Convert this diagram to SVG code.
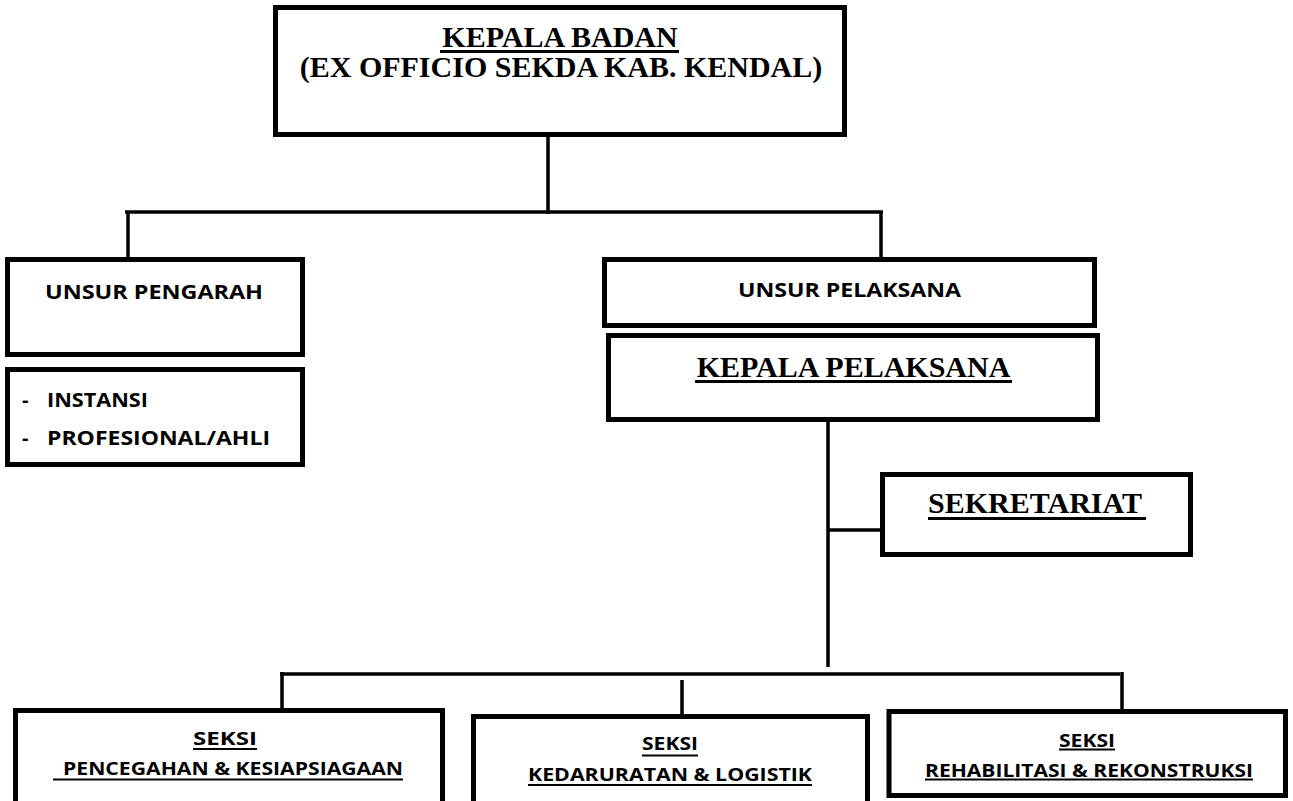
<svg xmlns="http://www.w3.org/2000/svg" width="1293" height="801" viewBox="0 0 1293 801">
<style>
.box{fill:#fff;stroke:#000;stroke-width:5}
.ln{stroke:#000;stroke-width:3.5;fill:none}
.ul{stroke:#000;stroke-width:3}
.uls{stroke:#000;stroke-width:2}
.serif{font-family:"Liberation Serif","Times New Roman",serif;font-weight:bold;font-size:30px;fill:#000}
.sans{font-family:"Open Sans","Liberation Sans",Arial,sans-serif;font-weight:bold;font-size:20px;fill:#000}
.sm{font-family:"Open Sans","Liberation Sans",Arial,sans-serif;font-weight:bold;font-size:18.5px;fill:#000}
</style>
<rect width="1293" height="801" fill="#fff"/>
<g id="connectors">
<line class="ln" x1="548" y1="137" x2="548" y2="214"/>
<line class="ln" x1="125" y1="212" x2="883" y2="212"/>
<line class="ln" x1="128" y1="212" x2="128" y2="258"/>
<line class="ln" x1="881" y1="212" x2="881" y2="258"/>
<line class="ln" x1="828" y1="422" x2="828" y2="667"/>
<line class="ln" x1="828" y1="530" x2="885" y2="530"/>
<line class="ln" x1="280" y1="674" x2="1120" y2="674"/>
<line class="ln" x1="282" y1="672" x2="282" y2="709"/>
<line class="ln" x1="682" y1="680" x2="682" y2="714"/>
<line class="ln" x1="1122" y1="672" x2="1122" y2="710"/>
</g>
<g id="kepala-badan">
<rect class="box" x="275.5" y="7.5" width="569" height="127"/>
<text class="serif" x="560" y="47" text-anchor="middle">KEPALA BADAN</text>
<line class="ul" x1="440" y1="51.5" x2="679" y2="51.5"/>
<text class="serif" x="561" y="77" text-anchor="middle">(EX OFFICIO SEKDA KAB. KENDAL)</text>
</g>
<g id="unsur-pengarah">
<rect class="box" x="7.5" y="259.5" width="295" height="95"/>
<text class="sans" x="45" y="299" textLength="218" lengthAdjust="spacingAndGlyphs">UNSUR PENGARAH</text>
</g>
<g id="anggota-pengarah">
<rect class="box" x="7.5" y="369.5" width="295" height="95"/>
<text class="sans" x="22" y="407" font-weight="normal">-</text>
<text class="sans" x="47" y="407" textLength="101" lengthAdjust="spacingAndGlyphs">INSTANSI</text>
<text class="sans" x="22" y="445" font-weight="normal">-</text>
<text class="sans" x="47" y="445" textLength="223" lengthAdjust="spacingAndGlyphs">PROFESIONAL/AHLI</text>
</g>
<g id="unsur-pelaksana">
<rect class="box" x="604.5" y="259.5" width="490" height="66"/>
<text class="sans" x="738" y="297" textLength="223" lengthAdjust="spacingAndGlyphs">UNSUR PELAKSANA</text>
</g>
<g id="kepala-pelaksana">
<rect class="box" x="608.5" y="335.5" width="489" height="84"/>
<text class="serif" x="853.5" y="377" text-anchor="middle">KEPALA PELAKSANA</text>
<line class="ul" x1="695" y1="381.5" x2="1012" y2="381.5"/>
</g>
<g id="sekretariat">
<rect class="box" x="882.5" y="474.5" width="308" height="80"/>
<text class="serif" x="928" y="512.5">SEKRETARIAT</text>
<line class="ul" x1="928" y1="518.5" x2="1146" y2="518.5"/>
</g>
<g id="seksi-pencegahan">
<rect class="box" x="15.5" y="710.5" width="427" height="110"/>
<text class="sm" x="193" y="745" textLength="64" lengthAdjust="spacingAndGlyphs">SEKSI</text>
<line class="uls" x1="193" y1="749" x2="257" y2="749"/>
<text class="sm" x="63" y="775" textLength="340" lengthAdjust="spacingAndGlyphs">PENCEGAHAN &amp; KESIAPSIAGAAN</text>
<line class="uls" x1="53" y1="779.5" x2="403" y2="779.5"/>
</g>
<g id="seksi-kedaruratan">
<rect class="box" x="473.5" y="716.5" width="394" height="110"/>
<text class="sm" x="642" y="750" textLength="56" lengthAdjust="spacingAndGlyphs">SEKSI</text>
<line class="uls" x1="642" y1="755.5" x2="698" y2="755.5"/>
<text class="sm" x="528" y="781" textLength="284" lengthAdjust="spacingAndGlyphs">KEDARURATAN &amp; LOGISTIK</text>
<line class="uls" x1="528" y1="785" x2="812" y2="785"/>
</g>
<g id="seksi-rehabilitasi">
<rect class="box" x="889" y="711.5" width="396.5" height="84"/>
<text class="sm" x="1059" y="746.5" textLength="56" lengthAdjust="spacingAndGlyphs">SEKSI</text>
<line class="uls" x1="1059" y1="749.5" x2="1115" y2="749.5"/>
<text class="sm" x="925" y="776.5" textLength="328" lengthAdjust="spacingAndGlyphs">REHABILITASI &amp; REKONSTRUKSI</text>
<line class="uls" x1="925" y1="779.5" x2="1253" y2="779.5"/>
</g>
</svg>
